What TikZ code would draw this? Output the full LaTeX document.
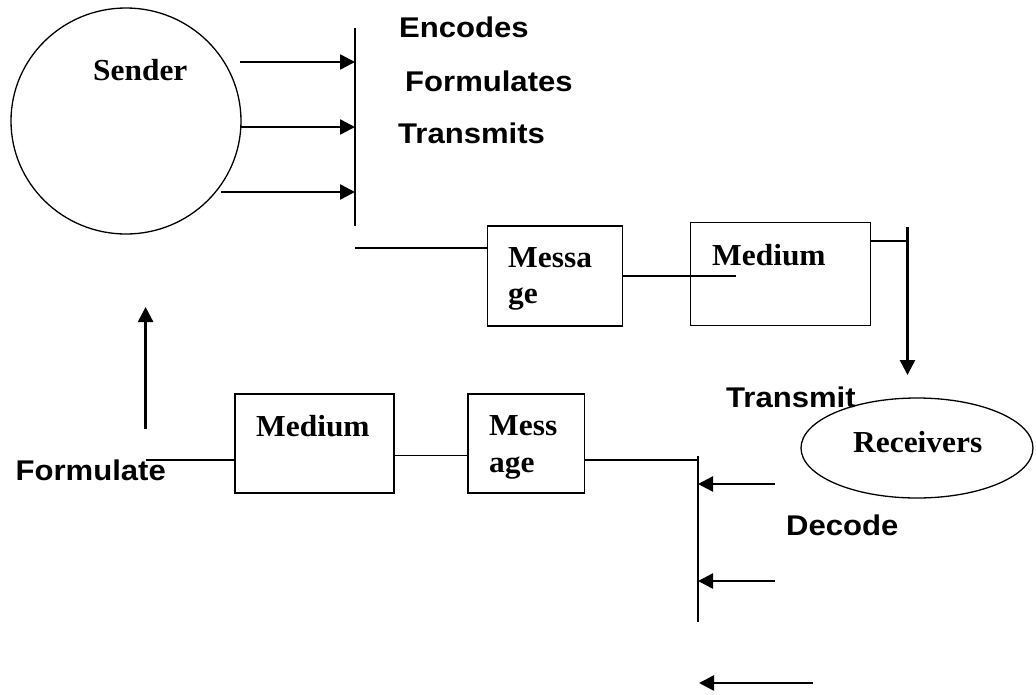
\documentclass[tikz,border=0pt]{standalone}
\usepackage{fontspec}
\setmainfont{Liberation Serif}[FakeStretch=1.03]
\setsansfont{Liberation Sans}[FakeStretch=1.09]
\usetikzlibrary{arrows.meta,shapes.geometric}

\begin{document}
\begin{tikzpicture}[x=1pt, y=-1pt, >={Triangle[length=15pt,width=15pt]},
  box/.style={draw, line width=1.4pt, inner sep=0pt},
  oval/.style={ellipse, draw, line width=1.3pt, inner sep=0pt},
  link/.style={line width=1.5pt},
  bar/.style={line width=2pt},
  arr/.style={->, line width=2.5pt},
  lbl/.style={inner sep=0pt, anchor=base west, font=\bfseries\fontsize{30.5}{36}\selectfont},
  sans/.style={lbl, font=\sffamily\bfseries\fontsize{28.5}{34}\selectfont}]
\path[use as bounding box] (0,0) rectangle (1036,694);
% sender side
\node[oval, minimum width=230pt, minimum height=226pt] (sender) at (126,121) {};
\node[lbl] (senderTxt) at (93,80) {Sender};
\node[sans] (encTxt) at (399,37) {Encodes};
\node[sans] (frmTxt) at (405,91) {Formulates};
\node[sans] (trsTxt) at (398,143) {Transmits};
\coordinate (barTop) at (355,28);
\coordinate (barBot) at (355,226);
\draw[bar] (barTop) -- (barBot);
\coordinate (out1) at (240,62);
\coordinate (out2) at (241,127);
\coordinate (out3) at (221,192);
\draw[arr] (out1) -- (out1 -| barTop);
\draw[arr] (out2) -- (out2 -| barTop);
\draw[arr] (out3) -- (out3 -| barTop);
% top row
\node[box, minimum width=135pt, minimum height=100pt] (msgTop) at (555,276) {};
\node[lbl] (msgTopA) at (508,267) {Messa};
\node[lbl] (msgTopB) at (508,303) {ge};
\node[box, minimum width=180pt, minimum height=103pt] (medTop) at (780.7,274.2) {};
\node[lbl] (medTopTxt) at (712,265) {Medium};
\coordinate (linkA) at (355,248);
\draw[link] (linkA) -- (linkA -| msgTop.west);
\coordinate (linkB) at (736,276);
\draw[link] (msgTop.east |- linkB) -- (linkB);
\coordinate (joinR) at (907.5,241);
\coordinate (dropTop) at (907.5,227);
\coordinate (dropTip) at (907.5,375);
\draw[link] (joinR -| medTop.east) -- (joinR);
\draw[arr] (dropTop) -- (dropTip);
% receiver side
\node[sans] (trTxt) at (726,407) {Transmit};
\node[oval, minimum width=232pt, minimum height=100pt] (recv) at (917,448) {};
\node[lbl] (recvTxt) at (853,452) {Receivers};
\coordinate (barLtop) at (698,456);
\coordinate (barLbot) at (698,622);
\draw[bar] (barLtop) -- (barLbot);
\coordinate (in1) at (775,484);
\coordinate (in2) at (775,581);
\draw[arr] (in1) -- (in1 -| barLtop);
\draw[arr] (in2) -- (in2 -| barLtop);
\coordinate (in3) at (813,683);
\coordinate (in3tip) at (699,683);
\draw[arr] (in3) -- (in3tip);
\node[sans] (decTxt) at (786,535) {Decode};
% bottom row
\node[box, minimum width=116.5pt, minimum height=99pt] (msgLow) at (526.25,443.5) {};
\node[lbl] (msgLowA) at (489,435) {Mess};
\node[lbl] (msgLowB) at (489,472) {age};
\node[box, minimum width=159pt, minimum height=99pt] (medLow) at (314.5,443.5) {};
\node[lbl] (medLowTxt) at (256,436) {Medium};
\coordinate (joinL) at (698,460);
\draw[link] (msgLow.east |- joinL) -- (joinL);
\draw[link] ([yshift=-12pt]medLow.east) -- ([yshift=-12pt]msgLow.west);
\coordinate (formL) at (145.6,460);
\draw[link] (formL) -- (formL -| medLow.west);
\coordinate (upBot) at (145.6,429);
\coordinate (upTip) at (145.6,307);
\draw[arr] (upBot) -- (upTip);
\node[sans, anchor=base east] (formTxt) at (166,480) {Formulate};
\end{tikzpicture}
\end{document}
